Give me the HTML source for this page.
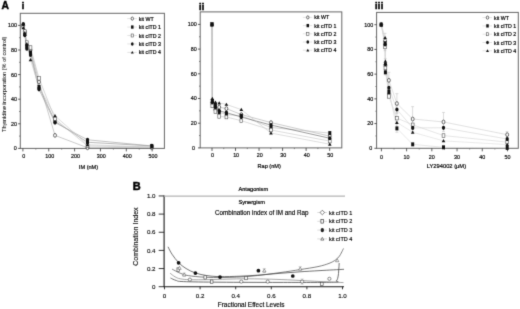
<!DOCTYPE html>
<html><head><meta charset="utf-8"><style>
html,body{margin:0;padding:0;background:#fff;width:520px;height:309px;overflow:hidden;}
svg{display:block;font-family:"Liberation Sans", sans-serif;}
</style></head><body>
<svg width="520" height="309" viewBox="0 0 520 309" font-family="'Liberation Sans', sans-serif">
<rect width="520" height="309" fill="#fff"/>
<defs><filter id="bl" x="0" y="0" width="520" height="309" filterUnits="userSpaceOnUse" color-interpolation-filters="sRGB"><feConvolveMatrix order="3" kernelMatrix="0.01440 0.09120 0.01440 0.09120 0.57760 0.09120 0.01440 0.09120 0.01440" divisor="1" edgeMode="duplicate" preserveAlpha="false"/></filter></defs>
<g filter="url(#bl)">
<text x="1.60" y="9.00" font-size="10.3" text-anchor="start" font-weight="bold" fill="#000" stroke="#000" stroke-width="0.4">A</text>
<rect x="20.30" y="13.30" width="144.10" height="135.10" fill="none" stroke="#666666" stroke-width="1.0"/>
<line x1="18.10" y1="148.40" x2="20.30" y2="148.40" stroke="#333" stroke-width="0.8"/>
<text x="16.70" y="150.30" font-size="5.4" text-anchor="end" font-weight="normal" fill="#000" stroke="#000" stroke-width="0.16">0</text>
<line x1="18.10" y1="123.80" x2="20.30" y2="123.80" stroke="#333" stroke-width="0.8"/>
<text x="16.90" y="125.70" font-size="5.4" text-anchor="end" font-weight="normal" fill="#000" stroke="#000" stroke-width="0.16">20</text>
<line x1="18.10" y1="99.20" x2="20.30" y2="99.20" stroke="#333" stroke-width="0.8"/>
<text x="16.90" y="101.10" font-size="5.4" text-anchor="end" font-weight="normal" fill="#000" stroke="#000" stroke-width="0.16">40</text>
<line x1="18.10" y1="74.60" x2="20.30" y2="74.60" stroke="#333" stroke-width="0.8"/>
<text x="16.90" y="76.50" font-size="5.4" text-anchor="end" font-weight="normal" fill="#000" stroke="#000" stroke-width="0.16">60</text>
<line x1="18.10" y1="50.00" x2="20.30" y2="50.00" stroke="#333" stroke-width="0.8"/>
<text x="16.90" y="51.90" font-size="5.4" text-anchor="end" font-weight="normal" fill="#000" stroke="#000" stroke-width="0.16">80</text>
<line x1="18.10" y1="25.40" x2="20.30" y2="25.40" stroke="#333" stroke-width="0.8"/>
<text x="16.90" y="27.30" font-size="5.4" text-anchor="end" font-weight="normal" fill="#000" stroke="#000" stroke-width="0.16">100</text>
<line x1="19.10" y1="136.10" x2="20.30" y2="136.10" stroke="#666666" stroke-width="0.8"/>
<line x1="19.10" y1="111.50" x2="20.30" y2="111.50" stroke="#666666" stroke-width="0.8"/>
<line x1="19.10" y1="86.90" x2="20.30" y2="86.90" stroke="#666666" stroke-width="0.8"/>
<line x1="19.10" y1="62.30" x2="20.30" y2="62.30" stroke="#666666" stroke-width="0.8"/>
<line x1="19.10" y1="37.70" x2="20.30" y2="37.70" stroke="#666666" stroke-width="0.8"/>
<line x1="22.90" y1="148.40" x2="22.90" y2="151.40" stroke="#333" stroke-width="0.8"/>
<text x="23.80" y="158.00" font-size="5.4" text-anchor="middle" font-weight="normal" fill="#000" stroke="#000" stroke-width="0.16">0</text>
<line x1="48.75" y1="148.40" x2="48.75" y2="151.40" stroke="#333" stroke-width="0.8"/>
<text x="49.65" y="158.00" font-size="5.4" text-anchor="middle" font-weight="normal" fill="#000" stroke="#000" stroke-width="0.16">100</text>
<line x1="74.60" y1="148.40" x2="74.60" y2="151.40" stroke="#333" stroke-width="0.8"/>
<text x="75.50" y="158.00" font-size="5.4" text-anchor="middle" font-weight="normal" fill="#000" stroke="#000" stroke-width="0.16">200</text>
<line x1="100.45" y1="148.40" x2="100.45" y2="151.40" stroke="#333" stroke-width="0.8"/>
<text x="101.35" y="158.00" font-size="5.4" text-anchor="middle" font-weight="normal" fill="#000" stroke="#000" stroke-width="0.16">300</text>
<line x1="126.30" y1="148.40" x2="126.30" y2="151.40" stroke="#333" stroke-width="0.8"/>
<text x="127.20" y="158.00" font-size="5.4" text-anchor="middle" font-weight="normal" fill="#000" stroke="#000" stroke-width="0.16">400</text>
<line x1="152.15" y1="148.40" x2="152.15" y2="151.40" stroke="#333" stroke-width="0.8"/>
<text x="153.05" y="158.00" font-size="5.4" text-anchor="middle" font-weight="normal" fill="#000" stroke="#000" stroke-width="0.16">500</text>
<line x1="35.83" y1="148.40" x2="35.83" y2="149.60" stroke="#666666" stroke-width="0.8"/>
<line x1="61.67" y1="148.40" x2="61.67" y2="149.60" stroke="#666666" stroke-width="0.8"/>
<line x1="87.53" y1="148.40" x2="87.53" y2="149.60" stroke="#666666" stroke-width="0.8"/>
<line x1="113.38" y1="148.40" x2="113.38" y2="149.60" stroke="#666666" stroke-width="0.8"/>
<line x1="139.22" y1="148.40" x2="139.22" y2="149.60" stroke="#666666" stroke-width="0.8"/>
<text x="88.50" y="168.90" font-size="5.6" text-anchor="middle" font-weight="normal" fill="#000" stroke="#000" stroke-width="0.18">IM (nM)</text>
<text x="21.70" y="8.90" font-size="9.0" text-anchor="start" font-weight="bold" fill="#000" stroke="#000" stroke-width="0.5" letter-spacing="0.35">i</text>
<polyline points="23.30,25.40 24.80,31.55 26.80,45.08 30.50,50.00 39.00,81.98 55.00,135.36 87.50,147.78 151.80,147.17" fill="none" stroke="#a8a8a8" stroke-width="0.6"/>
<polyline points="23.30,25.40 24.80,34.01 26.80,46.31 30.50,52.46 39.00,86.90 55.00,121.34 87.50,142.25 151.80,145.94" fill="none" stroke="#8c8c8c" stroke-width="0.6"/>
<polyline points="23.30,26.63 24.80,31.55 26.80,42.62 30.50,47.54 39.00,78.29 55.00,118.88 87.50,145.94 151.80,147.17" fill="none" stroke="#bcbcbc" stroke-width="0.6"/>
<polyline points="23.30,24.17 24.80,35.24 26.80,48.77 30.50,54.92 39.00,89.36 55.00,122.57 87.50,139.79 151.80,145.94" fill="none" stroke="#9c9c9c" stroke-width="0.6"/>
<polyline points="23.30,27.86 24.80,32.78 26.80,43.85 30.50,59.84 39.00,86.90 55.00,115.81 87.50,144.71 151.80,147.17" fill="none" stroke="#c4c4c4" stroke-width="0.6"/>
<ellipse cx="23.30" cy="25.40" rx="1.44" ry="1.92" fill="#fff" stroke="#111" stroke-width="0.6"/>
<ellipse cx="24.80" cy="31.55" rx="1.44" ry="1.92" fill="#fff" stroke="#111" stroke-width="0.6"/>
<ellipse cx="26.80" cy="45.08" rx="1.44" ry="1.92" fill="#fff" stroke="#111" stroke-width="0.6"/>
<ellipse cx="30.50" cy="50.00" rx="1.44" ry="1.92" fill="#fff" stroke="#111" stroke-width="0.6"/>
<ellipse cx="39.00" cy="81.98" rx="1.44" ry="1.92" fill="#fff" stroke="#111" stroke-width="0.6"/>
<ellipse cx="55.00" cy="135.36" rx="1.44" ry="1.92" fill="#fff" stroke="#111" stroke-width="0.6"/>
<ellipse cx="87.50" cy="147.78" rx="1.44" ry="1.92" fill="#fff" stroke="#111" stroke-width="0.6"/>
<ellipse cx="151.80" cy="147.17" rx="1.44" ry="1.92" fill="#fff" stroke="#111" stroke-width="0.6"/>
<rect x="21.80" y="23.42" width="3.00" height="3.96" fill="#111"/>
<rect x="23.30" y="32.03" width="3.00" height="3.96" fill="#111"/>
<rect x="25.30" y="44.33" width="3.00" height="3.96" fill="#111"/>
<rect x="29.00" y="50.48" width="3.00" height="3.96" fill="#111"/>
<rect x="37.50" y="84.92" width="3.00" height="3.96" fill="#111"/>
<rect x="53.50" y="119.36" width="3.00" height="3.96" fill="#111"/>
<rect x="86.00" y="140.27" width="3.00" height="3.96" fill="#111"/>
<rect x="150.30" y="143.96" width="3.00" height="3.96" fill="#111"/>
<rect x="21.92" y="24.83" width="2.76" height="3.60" fill="#fff" stroke="#555" stroke-width="0.6"/>
<rect x="23.42" y="29.75" width="2.76" height="3.60" fill="#fff" stroke="#555" stroke-width="0.6"/>
<rect x="25.42" y="40.82" width="2.76" height="3.60" fill="#fff" stroke="#555" stroke-width="0.6"/>
<rect x="29.12" y="45.74" width="2.76" height="3.60" fill="#fff" stroke="#555" stroke-width="0.6"/>
<rect x="37.62" y="76.49" width="2.76" height="3.60" fill="#fff" stroke="#555" stroke-width="0.6"/>
<rect x="53.62" y="117.08" width="2.76" height="3.60" fill="#fff" stroke="#555" stroke-width="0.6"/>
<rect x="86.12" y="144.14" width="2.76" height="3.60" fill="#fff" stroke="#555" stroke-width="0.6"/>
<rect x="150.42" y="145.37" width="2.76" height="3.60" fill="#fff" stroke="#555" stroke-width="0.6"/>
<ellipse cx="23.30" cy="24.17" rx="1.62" ry="2.10" fill="#111"/>
<ellipse cx="24.80" cy="35.24" rx="1.62" ry="2.10" fill="#111"/>
<ellipse cx="26.80" cy="48.77" rx="1.62" ry="2.10" fill="#111"/>
<ellipse cx="30.50" cy="54.92" rx="1.62" ry="2.10" fill="#111"/>
<ellipse cx="39.00" cy="89.36" rx="1.62" ry="2.10" fill="#111"/>
<ellipse cx="55.00" cy="122.57" rx="1.62" ry="2.10" fill="#111"/>
<ellipse cx="87.50" cy="139.79" rx="1.62" ry="2.10" fill="#111"/>
<ellipse cx="151.80" cy="145.94" rx="1.62" ry="2.10" fill="#111"/>
<path d="M23.30,26.06 L25.10,29.30 L21.50,29.30Z" fill="#111"/>
<path d="M24.80,30.98 L26.60,34.22 L23.00,34.22Z" fill="#111"/>
<path d="M26.80,42.05 L28.60,45.29 L25.00,45.29Z" fill="#111"/>
<path d="M30.50,58.04 L32.30,61.28 L28.70,61.28Z" fill="#111"/>
<path d="M39.00,85.10 L40.80,88.34 L37.20,88.34Z" fill="#111"/>
<path d="M55.00,114.01 L56.80,117.25 L53.20,117.25Z" fill="#111"/>
<path d="M87.50,142.91 L89.30,146.15 L85.70,146.15Z" fill="#111"/>
<path d="M151.80,145.37 L153.60,148.61 L150.00,148.61Z" fill="#111"/>
<line x1="127.30" y1="18.60" x2="136.80" y2="18.60" stroke="#d0d0d0" stroke-width="0.6"/>
<ellipse cx="132.30" cy="18.60" rx="1.20" ry="1.60" fill="#fff" stroke="#111" stroke-width="0.6"/>
<text x="138.80" y="20.60" font-size="5.25" text-anchor="start" font-weight="normal" fill="#000" stroke="#000" stroke-width="0.2">kit WT</text>
<line x1="127.30" y1="27.05" x2="136.80" y2="27.05" stroke="#d0d0d0" stroke-width="0.6"/>
<rect x="131.05" y="25.40" width="2.50" height="3.30" fill="#111"/>
<text x="138.80" y="29.05" font-size="5.25" text-anchor="start" font-weight="normal" fill="#000" stroke="#000" stroke-width="0.2">kit cITD 1</text>
<line x1="127.30" y1="35.50" x2="136.80" y2="35.50" stroke="#d0d0d0" stroke-width="0.6"/>
<rect x="131.15" y="34.00" width="2.30" height="3.00" fill="#fff" stroke="#555" stroke-width="0.6"/>
<text x="138.80" y="37.50" font-size="5.25" text-anchor="start" font-weight="normal" fill="#000" stroke="#000" stroke-width="0.2">kit cITD 2</text>
<line x1="127.30" y1="43.95" x2="136.80" y2="43.95" stroke="#d0d0d0" stroke-width="0.6"/>
<ellipse cx="132.30" cy="43.95" rx="1.35" ry="1.75" fill="#111"/>
<text x="138.80" y="45.95" font-size="5.25" text-anchor="start" font-weight="normal" fill="#000" stroke="#000" stroke-width="0.2">kit cITD 3</text>
<line x1="127.30" y1="52.40" x2="136.80" y2="52.40" stroke="#d0d0d0" stroke-width="0.6"/>
<path d="M132.30,50.90 L133.80,53.60 L130.80,53.60Z" fill="#111"/>
<text x="138.80" y="54.40" font-size="5.25" text-anchor="start" font-weight="normal" fill="#000" stroke="#000" stroke-width="0.2">kit cITD 4</text>
<text x="5.60" y="84.40" font-size="5.65" text-anchor="middle" font-weight="normal" fill="#111" stroke="#111" stroke-width="0.05" transform="rotate(-90 5.6 84.4)">Thymidine incorporation (% of control)</text>
<rect x="200.20" y="11.90" width="141.60" height="136.00" fill="none" stroke="#666666" stroke-width="1.0"/>
<line x1="198.00" y1="147.90" x2="200.20" y2="147.90" stroke="#333" stroke-width="0.8"/>
<text x="195.00" y="149.80" font-size="5.4" text-anchor="end" font-weight="normal" fill="#000" stroke="#000" stroke-width="0.16">0</text>
<line x1="198.00" y1="123.20" x2="200.20" y2="123.20" stroke="#333" stroke-width="0.8"/>
<text x="196.80" y="125.10" font-size="5.4" text-anchor="end" font-weight="normal" fill="#000" stroke="#000" stroke-width="0.16">20</text>
<line x1="198.00" y1="98.50" x2="200.20" y2="98.50" stroke="#333" stroke-width="0.8"/>
<text x="196.80" y="100.40" font-size="5.4" text-anchor="end" font-weight="normal" fill="#000" stroke="#000" stroke-width="0.16">40</text>
<line x1="198.00" y1="73.80" x2="200.20" y2="73.80" stroke="#333" stroke-width="0.8"/>
<text x="196.80" y="75.70" font-size="5.4" text-anchor="end" font-weight="normal" fill="#000" stroke="#000" stroke-width="0.16">60</text>
<line x1="198.00" y1="49.10" x2="200.20" y2="49.10" stroke="#333" stroke-width="0.8"/>
<text x="196.80" y="51.00" font-size="5.4" text-anchor="end" font-weight="normal" fill="#000" stroke="#000" stroke-width="0.16">80</text>
<line x1="198.00" y1="24.40" x2="200.20" y2="24.40" stroke="#333" stroke-width="0.8"/>
<text x="196.80" y="26.30" font-size="5.4" text-anchor="end" font-weight="normal" fill="#000" stroke="#000" stroke-width="0.16">100</text>
<line x1="199.00" y1="135.55" x2="200.20" y2="135.55" stroke="#666666" stroke-width="0.8"/>
<line x1="199.00" y1="110.85" x2="200.20" y2="110.85" stroke="#666666" stroke-width="0.8"/>
<line x1="199.00" y1="86.15" x2="200.20" y2="86.15" stroke="#666666" stroke-width="0.8"/>
<line x1="199.00" y1="61.45" x2="200.20" y2="61.45" stroke="#666666" stroke-width="0.8"/>
<line x1="199.00" y1="36.75" x2="200.20" y2="36.75" stroke="#666666" stroke-width="0.8"/>
<line x1="212.00" y1="147.90" x2="212.00" y2="150.90" stroke="#333" stroke-width="0.8"/>
<text x="212.60" y="157.00" font-size="5.4" text-anchor="middle" font-weight="normal" fill="#000" stroke="#000" stroke-width="0.16">0</text>
<line x1="235.53" y1="147.90" x2="235.53" y2="150.90" stroke="#333" stroke-width="0.8"/>
<text x="236.13" y="157.00" font-size="5.4" text-anchor="middle" font-weight="normal" fill="#000" stroke="#000" stroke-width="0.16">10</text>
<line x1="259.06" y1="147.90" x2="259.06" y2="150.90" stroke="#333" stroke-width="0.8"/>
<text x="259.66" y="157.00" font-size="5.4" text-anchor="middle" font-weight="normal" fill="#000" stroke="#000" stroke-width="0.16">20</text>
<line x1="282.59" y1="147.90" x2="282.59" y2="150.90" stroke="#333" stroke-width="0.8"/>
<text x="283.19" y="157.00" font-size="5.4" text-anchor="middle" font-weight="normal" fill="#000" stroke="#000" stroke-width="0.16">30</text>
<line x1="306.12" y1="147.90" x2="306.12" y2="150.90" stroke="#333" stroke-width="0.8"/>
<text x="306.72" y="157.00" font-size="5.4" text-anchor="middle" font-weight="normal" fill="#000" stroke="#000" stroke-width="0.16">40</text>
<line x1="329.65" y1="147.90" x2="329.65" y2="150.90" stroke="#333" stroke-width="0.8"/>
<text x="330.25" y="157.00" font-size="5.4" text-anchor="middle" font-weight="normal" fill="#000" stroke="#000" stroke-width="0.16">50</text>
<line x1="223.76" y1="147.90" x2="223.76" y2="149.10" stroke="#666666" stroke-width="0.8"/>
<line x1="247.30" y1="147.90" x2="247.30" y2="149.10" stroke="#666666" stroke-width="0.8"/>
<line x1="270.82" y1="147.90" x2="270.82" y2="149.10" stroke="#666666" stroke-width="0.8"/>
<line x1="294.36" y1="147.90" x2="294.36" y2="149.10" stroke="#666666" stroke-width="0.8"/>
<line x1="317.88" y1="147.90" x2="317.88" y2="149.10" stroke="#666666" stroke-width="0.8"/>
<text x="269.20" y="168.40" font-size="5.6" text-anchor="middle" font-weight="normal" fill="#000" stroke="#000" stroke-width="0.18">Rap (nM)</text>
<text x="198.90" y="9.60" font-size="9.0" text-anchor="start" font-weight="bold" fill="#000" stroke="#000" stroke-width="0.5" letter-spacing="0.35">ii</text>
<polyline points="212.00,24.40 212.30,103.44 215.40,109.62 219.20,107.15 226.40,108.63 241.30,114.56 271.00,122.58 329.80,136.17" fill="none" stroke="#aaaaaa" stroke-width="0.6"/>
<polyline points="212.00,24.40 212.30,100.97 215.40,104.68 219.20,112.09 226.40,114.56 241.30,115.79 271.00,127.52 329.80,133.08" fill="none" stroke="#bbbbbb" stroke-width="0.6"/>
<polyline points="212.00,24.40 212.30,105.91 215.40,111.47 219.20,116.41 226.40,117.03 241.30,120.73 271.00,129.99 329.80,141.11" fill="none" stroke="#c4c4c4" stroke-width="0.6"/>
<polyline points="212.30,102.21 215.40,107.15 219.20,110.85 226.40,112.70 241.30,117.03 271.00,125.05 329.80,138.27" fill="none" stroke="#5a5a5a" stroke-width="0.6"/>
<line x1="212.00" y1="24.40" x2="212.30" y2="102.21" stroke="#b0b0b0" stroke-width="0.6"/>
<polyline points="212.00,24.40 212.30,98.50 215.40,102.21 219.20,102.95 226.40,104.43 241.30,109.62 271.00,133.08 329.80,144.19" fill="none" stroke="#c8c8c8" stroke-width="0.6"/>
<ellipse cx="212.00" cy="24.40" rx="1.44" ry="1.92" fill="#fff" stroke="#111" stroke-width="0.6"/>
<ellipse cx="212.30" cy="103.44" rx="1.44" ry="1.92" fill="#fff" stroke="#111" stroke-width="0.6"/>
<ellipse cx="215.40" cy="109.62" rx="1.44" ry="1.92" fill="#fff" stroke="#111" stroke-width="0.6"/>
<ellipse cx="219.20" cy="107.15" rx="1.44" ry="1.92" fill="#fff" stroke="#111" stroke-width="0.6"/>
<ellipse cx="226.40" cy="108.63" rx="1.44" ry="1.92" fill="#fff" stroke="#111" stroke-width="0.6"/>
<ellipse cx="241.30" cy="114.56" rx="1.44" ry="1.92" fill="#fff" stroke="#111" stroke-width="0.6"/>
<ellipse cx="271.00" cy="122.58" rx="1.44" ry="1.92" fill="#fff" stroke="#111" stroke-width="0.6"/>
<ellipse cx="329.80" cy="136.17" rx="1.44" ry="1.92" fill="#fff" stroke="#111" stroke-width="0.6"/>
<rect x="210.50" y="22.42" width="3.00" height="3.96" fill="#111"/>
<rect x="210.80" y="98.99" width="3.00" height="3.96" fill="#111"/>
<rect x="213.90" y="102.70" width="3.00" height="3.96" fill="#111"/>
<rect x="217.70" y="110.11" width="3.00" height="3.96" fill="#111"/>
<rect x="224.90" y="112.58" width="3.00" height="3.96" fill="#111"/>
<rect x="239.80" y="113.81" width="3.00" height="3.96" fill="#111"/>
<rect x="269.50" y="125.54" width="3.00" height="3.96" fill="#111"/>
<rect x="328.30" y="131.10" width="3.00" height="3.96" fill="#111"/>
<rect x="210.62" y="22.60" width="2.76" height="3.60" fill="#fff" stroke="#555" stroke-width="0.6"/>
<rect x="210.92" y="104.11" width="2.76" height="3.60" fill="#fff" stroke="#555" stroke-width="0.6"/>
<rect x="214.02" y="109.67" width="2.76" height="3.60" fill="#fff" stroke="#555" stroke-width="0.6"/>
<rect x="217.82" y="114.61" width="2.76" height="3.60" fill="#fff" stroke="#555" stroke-width="0.6"/>
<rect x="225.02" y="115.23" width="2.76" height="3.60" fill="#fff" stroke="#555" stroke-width="0.6"/>
<rect x="239.92" y="118.93" width="2.76" height="3.60" fill="#fff" stroke="#555" stroke-width="0.6"/>
<rect x="269.62" y="128.19" width="2.76" height="3.60" fill="#fff" stroke="#555" stroke-width="0.6"/>
<rect x="328.42" y="139.31" width="2.76" height="3.60" fill="#fff" stroke="#555" stroke-width="0.6"/>
<ellipse cx="212.00" cy="24.40" rx="1.62" ry="2.10" fill="#111"/>
<ellipse cx="212.30" cy="102.21" rx="1.62" ry="2.10" fill="#111"/>
<ellipse cx="215.40" cy="107.15" rx="1.62" ry="2.10" fill="#111"/>
<ellipse cx="219.20" cy="110.85" rx="1.62" ry="2.10" fill="#111"/>
<ellipse cx="226.40" cy="112.70" rx="1.62" ry="2.10" fill="#111"/>
<ellipse cx="241.30" cy="117.03" rx="1.62" ry="2.10" fill="#111"/>
<ellipse cx="271.00" cy="125.05" rx="1.62" ry="2.10" fill="#111"/>
<ellipse cx="329.80" cy="138.27" rx="1.62" ry="2.10" fill="#111"/>
<path d="M212.00,22.60 L213.80,25.84 L210.20,25.84Z" fill="#111"/>
<path d="M212.30,96.70 L214.10,99.94 L210.50,99.94Z" fill="#111"/>
<path d="M215.40,100.41 L217.20,103.65 L213.60,103.65Z" fill="#111"/>
<path d="M219.20,101.15 L221.00,104.39 L217.40,104.39Z" fill="#111"/>
<path d="M226.40,102.63 L228.20,105.87 L224.60,105.87Z" fill="#111"/>
<path d="M241.30,107.82 L243.10,111.06 L239.50,111.06Z" fill="#111"/>
<path d="M271.00,131.28 L272.80,134.52 L269.20,134.52Z" fill="#111"/>
<path d="M329.80,142.39 L331.60,145.63 L328.00,145.63Z" fill="#111"/>
<line x1="302.80" y1="17.40" x2="312.30" y2="17.40" stroke="#d0d0d0" stroke-width="0.6"/>
<ellipse cx="307.80" cy="17.40" rx="1.20" ry="1.60" fill="#fff" stroke="#111" stroke-width="0.6"/>
<text x="314.30" y="19.40" font-size="5.25" text-anchor="start" font-weight="normal" fill="#000" stroke="#000" stroke-width="0.2">kit WT</text>
<line x1="302.80" y1="25.60" x2="312.30" y2="25.60" stroke="#d0d0d0" stroke-width="0.6"/>
<rect x="306.55" y="23.95" width="2.50" height="3.30" fill="#111"/>
<text x="314.30" y="27.60" font-size="5.25" text-anchor="start" font-weight="normal" fill="#000" stroke="#000" stroke-width="0.2">kit cITD 1</text>
<line x1="302.80" y1="33.80" x2="312.30" y2="33.80" stroke="#d0d0d0" stroke-width="0.6"/>
<rect x="306.65" y="32.30" width="2.30" height="3.00" fill="#fff" stroke="#555" stroke-width="0.6"/>
<text x="314.30" y="35.80" font-size="5.25" text-anchor="start" font-weight="normal" fill="#000" stroke="#000" stroke-width="0.2">kit cITD 2</text>
<line x1="302.80" y1="42.00" x2="312.30" y2="42.00" stroke="#d0d0d0" stroke-width="0.6"/>
<ellipse cx="307.80" cy="42.00" rx="1.35" ry="1.75" fill="#111"/>
<text x="314.30" y="44.00" font-size="5.25" text-anchor="start" font-weight="normal" fill="#000" stroke="#000" stroke-width="0.2">kit cITD 3</text>
<line x1="302.80" y1="50.20" x2="312.30" y2="50.20" stroke="#d0d0d0" stroke-width="0.6"/>
<path d="M307.80,48.70 L309.30,51.40 L306.30,51.40Z" fill="#111"/>
<text x="314.30" y="52.20" font-size="5.25" text-anchor="start" font-weight="normal" fill="#000" stroke="#000" stroke-width="0.2">kit cITD 4</text>
<rect x="376.60" y="12.40" width="141.70" height="135.90" fill="none" stroke="#666666" stroke-width="1.0"/>
<line x1="374.40" y1="148.30" x2="376.60" y2="148.30" stroke="#333" stroke-width="0.8"/>
<text x="372.20" y="150.20" font-size="5.4" text-anchor="end" font-weight="normal" fill="#000" stroke="#000" stroke-width="0.16">0</text>
<line x1="374.40" y1="123.58" x2="376.60" y2="123.58" stroke="#333" stroke-width="0.8"/>
<text x="373.20" y="125.48" font-size="5.4" text-anchor="end" font-weight="normal" fill="#000" stroke="#000" stroke-width="0.16">20</text>
<line x1="374.40" y1="98.86" x2="376.60" y2="98.86" stroke="#333" stroke-width="0.8"/>
<text x="373.20" y="100.76" font-size="5.4" text-anchor="end" font-weight="normal" fill="#000" stroke="#000" stroke-width="0.16">40</text>
<line x1="374.40" y1="74.14" x2="376.60" y2="74.14" stroke="#333" stroke-width="0.8"/>
<text x="373.20" y="76.04" font-size="5.4" text-anchor="end" font-weight="normal" fill="#000" stroke="#000" stroke-width="0.16">60</text>
<line x1="374.40" y1="49.42" x2="376.60" y2="49.42" stroke="#333" stroke-width="0.8"/>
<text x="373.20" y="51.32" font-size="5.4" text-anchor="end" font-weight="normal" fill="#000" stroke="#000" stroke-width="0.16">80</text>
<line x1="374.40" y1="24.70" x2="376.60" y2="24.70" stroke="#333" stroke-width="0.8"/>
<text x="373.20" y="26.60" font-size="5.4" text-anchor="end" font-weight="normal" fill="#000" stroke="#000" stroke-width="0.16">100</text>
<line x1="375.40" y1="135.94" x2="376.60" y2="135.94" stroke="#666666" stroke-width="0.8"/>
<line x1="375.40" y1="111.22" x2="376.60" y2="111.22" stroke="#666666" stroke-width="0.8"/>
<line x1="375.40" y1="86.50" x2="376.60" y2="86.50" stroke="#666666" stroke-width="0.8"/>
<line x1="375.40" y1="61.78" x2="376.60" y2="61.78" stroke="#666666" stroke-width="0.8"/>
<line x1="375.40" y1="37.06" x2="376.60" y2="37.06" stroke="#666666" stroke-width="0.8"/>
<line x1="381.40" y1="148.30" x2="381.40" y2="151.30" stroke="#333" stroke-width="0.8"/>
<text x="381.40" y="158.70" font-size="5.4" text-anchor="middle" font-weight="normal" fill="#000" stroke="#000" stroke-width="0.16">0</text>
<line x1="406.62" y1="148.30" x2="406.62" y2="151.30" stroke="#333" stroke-width="0.8"/>
<text x="406.62" y="158.70" font-size="5.4" text-anchor="middle" font-weight="normal" fill="#000" stroke="#000" stroke-width="0.16">10</text>
<line x1="431.84" y1="148.30" x2="431.84" y2="151.30" stroke="#333" stroke-width="0.8"/>
<text x="431.84" y="158.70" font-size="5.4" text-anchor="middle" font-weight="normal" fill="#000" stroke="#000" stroke-width="0.16">20</text>
<line x1="457.06" y1="148.30" x2="457.06" y2="151.30" stroke="#333" stroke-width="0.8"/>
<text x="457.06" y="158.70" font-size="5.4" text-anchor="middle" font-weight="normal" fill="#000" stroke="#000" stroke-width="0.16">30</text>
<line x1="482.28" y1="148.30" x2="482.28" y2="151.30" stroke="#333" stroke-width="0.8"/>
<text x="482.28" y="158.70" font-size="5.4" text-anchor="middle" font-weight="normal" fill="#000" stroke="#000" stroke-width="0.16">40</text>
<line x1="507.50" y1="148.30" x2="507.50" y2="151.30" stroke="#333" stroke-width="0.8"/>
<text x="507.50" y="158.70" font-size="5.4" text-anchor="middle" font-weight="normal" fill="#000" stroke="#000" stroke-width="0.16">50</text>
<line x1="394.01" y1="148.30" x2="394.01" y2="149.50" stroke="#666666" stroke-width="0.8"/>
<line x1="419.23" y1="148.30" x2="419.23" y2="149.50" stroke="#666666" stroke-width="0.8"/>
<line x1="444.45" y1="148.30" x2="444.45" y2="149.50" stroke="#666666" stroke-width="0.8"/>
<line x1="469.67" y1="148.30" x2="469.67" y2="149.50" stroke="#666666" stroke-width="0.8"/>
<line x1="494.89" y1="148.30" x2="494.89" y2="149.50" stroke="#666666" stroke-width="0.8"/>
<text x="446.40" y="167.80" font-size="5.75" text-anchor="middle" font-weight="normal" fill="#000" stroke="#000" stroke-width="0.18">LY294002 (μM)</text>
<text x="375.00" y="8.70" font-size="9.0" text-anchor="start" font-weight="bold" fill="#000" stroke="#000" stroke-width="0.5" letter-spacing="0.35">iii</text>
<polyline points="381.30,24.70 385.10,40.77 385.40,65.49 388.90,80.32 396.90,103.56 412.70,119.01 443.50,121.97 507.20,134.70" fill="none" stroke="#cccccc" stroke-width="0.6"/>
<polyline points="381.30,24.70 385.10,43.24 385.40,72.29 388.90,91.44 396.90,128.40 412.70,144.34 443.50,147.31 507.20,147.93" fill="none" stroke="#d9d9d9" stroke-width="0.6"/>
<polyline points="381.30,24.70 385.10,46.95 385.40,67.96 388.90,96.39 396.90,118.14 412.70,124.82 443.50,135.57 507.20,142.12" fill="none" stroke="#d5d5d5" stroke-width="0.6"/>
<polyline points="381.30,24.70 385.10,44.48 385.40,64.25 388.90,87.74 396.90,109.49 412.70,127.91 443.50,127.78 507.20,139.03" fill="none" stroke="#d1d1d1" stroke-width="0.6"/>
<polyline points="381.30,24.70 385.10,37.68 385.40,61.29 388.90,92.68 396.90,122.47 412.70,132.23 443.50,140.88 507.20,144.59" fill="none" stroke="#dcdcdc" stroke-width="0.6"/>
<line x1="385.00" y1="33.35" x2="385.00" y2="50.66" stroke="#bbb" stroke-width="0.5"/>
<line x1="383.50" y1="33.35" x2="386.50" y2="33.35" stroke="#bbb" stroke-width="0.5"/>
<line x1="383.50" y1="50.66" x2="386.50" y2="50.66" stroke="#bbb" stroke-width="0.5"/>
<line x1="385.30" y1="58.69" x2="385.30" y2="74.76" stroke="#bbb" stroke-width="0.5"/>
<line x1="383.80" y1="58.69" x2="386.80" y2="58.69" stroke="#bbb" stroke-width="0.5"/>
<line x1="383.80" y1="74.76" x2="386.80" y2="74.76" stroke="#bbb" stroke-width="0.5"/>
<line x1="388.90" y1="72.29" x2="388.90" y2="88.35" stroke="#bbb" stroke-width="0.5"/>
<line x1="387.40" y1="72.29" x2="390.40" y2="72.29" stroke="#bbb" stroke-width="0.5"/>
<line x1="387.40" y1="88.35" x2="390.40" y2="88.35" stroke="#bbb" stroke-width="0.5"/>
<line x1="396.90" y1="93.67" x2="396.90" y2="113.44" stroke="#bbb" stroke-width="0.5"/>
<line x1="395.40" y1="93.67" x2="398.40" y2="93.67" stroke="#bbb" stroke-width="0.5"/>
<line x1="395.40" y1="113.44" x2="398.40" y2="113.44" stroke="#bbb" stroke-width="0.5"/>
<line x1="396.90" y1="112.58" x2="396.90" y2="132.36" stroke="#bbb" stroke-width="0.5"/>
<line x1="395.40" y1="112.58" x2="398.40" y2="112.58" stroke="#bbb" stroke-width="0.5"/>
<line x1="395.40" y1="132.36" x2="398.40" y2="132.36" stroke="#bbb" stroke-width="0.5"/>
<line x1="412.60" y1="106.65" x2="412.60" y2="131.37" stroke="#bbb" stroke-width="0.5"/>
<line x1="411.10" y1="106.65" x2="414.10" y2="106.65" stroke="#bbb" stroke-width="0.5"/>
<line x1="411.10" y1="131.37" x2="414.10" y2="131.37" stroke="#bbb" stroke-width="0.5"/>
<line x1="443.50" y1="112.46" x2="443.50" y2="131.49" stroke="#bbb" stroke-width="0.5"/>
<line x1="442.00" y1="112.46" x2="445.00" y2="112.46" stroke="#bbb" stroke-width="0.5"/>
<line x1="442.00" y1="131.49" x2="445.00" y2="131.49" stroke="#bbb" stroke-width="0.5"/>
<line x1="507.00" y1="131.61" x2="507.00" y2="137.79" stroke="#bbb" stroke-width="0.5"/>
<line x1="505.50" y1="131.61" x2="508.50" y2="131.61" stroke="#bbb" stroke-width="0.5"/>
<line x1="505.50" y1="137.79" x2="508.50" y2="137.79" stroke="#bbb" stroke-width="0.5"/>
<ellipse cx="381.30" cy="24.70" rx="1.44" ry="1.92" fill="#fff" stroke="#111" stroke-width="0.6"/>
<ellipse cx="385.10" cy="40.77" rx="1.44" ry="1.92" fill="#fff" stroke="#111" stroke-width="0.6"/>
<ellipse cx="385.40" cy="65.49" rx="1.44" ry="1.92" fill="#fff" stroke="#111" stroke-width="0.6"/>
<ellipse cx="388.90" cy="80.32" rx="1.44" ry="1.92" fill="#fff" stroke="#111" stroke-width="0.6"/>
<ellipse cx="396.90" cy="103.56" rx="1.44" ry="1.92" fill="#fff" stroke="#111" stroke-width="0.6"/>
<ellipse cx="412.70" cy="119.01" rx="1.44" ry="1.92" fill="#fff" stroke="#111" stroke-width="0.6"/>
<ellipse cx="443.50" cy="121.97" rx="1.44" ry="1.92" fill="#fff" stroke="#111" stroke-width="0.6"/>
<ellipse cx="507.20" cy="134.70" rx="1.44" ry="1.92" fill="#fff" stroke="#111" stroke-width="0.6"/>
<rect x="379.80" y="22.72" width="3.00" height="3.96" fill="#111"/>
<rect x="383.60" y="41.26" width="3.00" height="3.96" fill="#111"/>
<rect x="383.90" y="70.31" width="3.00" height="3.96" fill="#111"/>
<rect x="387.40" y="89.46" width="3.00" height="3.96" fill="#111"/>
<rect x="395.40" y="126.42" width="3.00" height="3.96" fill="#111"/>
<rect x="411.20" y="142.36" width="3.00" height="3.96" fill="#111"/>
<rect x="442.00" y="145.33" width="3.00" height="3.96" fill="#111"/>
<rect x="505.70" y="145.95" width="3.00" height="3.96" fill="#111"/>
<rect x="379.92" y="22.90" width="2.76" height="3.60" fill="#fff" stroke="#555" stroke-width="0.6"/>
<rect x="383.72" y="45.15" width="2.76" height="3.60" fill="#fff" stroke="#555" stroke-width="0.6"/>
<rect x="384.02" y="66.16" width="2.76" height="3.60" fill="#fff" stroke="#555" stroke-width="0.6"/>
<rect x="387.52" y="94.59" width="2.76" height="3.60" fill="#fff" stroke="#555" stroke-width="0.6"/>
<rect x="395.52" y="116.34" width="2.76" height="3.60" fill="#fff" stroke="#555" stroke-width="0.6"/>
<rect x="411.32" y="123.02" width="2.76" height="3.60" fill="#fff" stroke="#555" stroke-width="0.6"/>
<rect x="442.12" y="133.77" width="2.76" height="3.60" fill="#fff" stroke="#555" stroke-width="0.6"/>
<rect x="505.82" y="140.32" width="2.76" height="3.60" fill="#fff" stroke="#555" stroke-width="0.6"/>
<ellipse cx="381.30" cy="24.70" rx="1.62" ry="2.10" fill="#111"/>
<ellipse cx="385.10" cy="44.48" rx="1.62" ry="2.10" fill="#111"/>
<ellipse cx="385.40" cy="64.25" rx="1.62" ry="2.10" fill="#111"/>
<ellipse cx="388.90" cy="87.74" rx="1.62" ry="2.10" fill="#111"/>
<ellipse cx="396.90" cy="109.49" rx="1.62" ry="2.10" fill="#111"/>
<ellipse cx="412.70" cy="127.91" rx="1.62" ry="2.10" fill="#111"/>
<ellipse cx="443.50" cy="127.78" rx="1.62" ry="2.10" fill="#111"/>
<ellipse cx="507.20" cy="139.03" rx="1.62" ry="2.10" fill="#111"/>
<path d="M381.30,22.90 L383.10,26.14 L379.50,26.14Z" fill="#111"/>
<path d="M385.10,35.88 L386.90,39.12 L383.30,39.12Z" fill="#111"/>
<path d="M385.40,59.49 L387.20,62.73 L383.60,62.73Z" fill="#111"/>
<path d="M388.90,90.88 L390.70,94.12 L387.10,94.12Z" fill="#111"/>
<path d="M396.90,120.67 L398.70,123.91 L395.10,123.91Z" fill="#111"/>
<path d="M412.70,130.43 L414.50,133.67 L410.90,133.67Z" fill="#111"/>
<path d="M443.50,139.08 L445.30,142.32 L441.70,142.32Z" fill="#111"/>
<path d="M507.20,142.79 L509.00,146.03 L505.40,146.03Z" fill="#111"/>
<line x1="482.50" y1="17.60" x2="492.00" y2="17.60" stroke="#d0d0d0" stroke-width="0.6"/>
<ellipse cx="487.50" cy="17.60" rx="1.20" ry="1.60" fill="#fff" stroke="#111" stroke-width="0.6"/>
<text x="494.00" y="19.60" font-size="5.25" text-anchor="start" font-weight="normal" fill="#000" stroke="#000" stroke-width="0.2">kit WT</text>
<line x1="482.50" y1="25.90" x2="492.00" y2="25.90" stroke="#d0d0d0" stroke-width="0.6"/>
<rect x="486.25" y="24.25" width="2.50" height="3.30" fill="#111"/>
<text x="494.00" y="27.90" font-size="5.25" text-anchor="start" font-weight="normal" fill="#000" stroke="#000" stroke-width="0.2">kit cITD 1</text>
<line x1="482.50" y1="34.20" x2="492.00" y2="34.20" stroke="#d0d0d0" stroke-width="0.6"/>
<rect x="486.35" y="32.70" width="2.30" height="3.00" fill="#fff" stroke="#555" stroke-width="0.6"/>
<text x="494.00" y="36.20" font-size="5.25" text-anchor="start" font-weight="normal" fill="#000" stroke="#000" stroke-width="0.2">kit cITD 2</text>
<line x1="482.50" y1="42.50" x2="492.00" y2="42.50" stroke="#d0d0d0" stroke-width="0.6"/>
<ellipse cx="487.50" cy="42.50" rx="1.35" ry="1.75" fill="#111"/>
<text x="494.00" y="44.50" font-size="5.25" text-anchor="start" font-weight="normal" fill="#000" stroke="#000" stroke-width="0.2">kit cITD 3</text>
<line x1="482.50" y1="50.80" x2="492.00" y2="50.80" stroke="#d0d0d0" stroke-width="0.6"/>
<path d="M487.50,49.30 L489.00,52.00 L486.00,52.00Z" fill="#111"/>
<text x="494.00" y="52.80" font-size="5.25" text-anchor="start" font-weight="normal" fill="#000" stroke="#000" stroke-width="0.2">kit cITD 4</text>
<text x="132.70" y="189.90" font-size="11.0" text-anchor="start" font-weight="bold" fill="#000" stroke="#000" stroke-width="0.5">B</text>
<line x1="164.10" y1="195.45" x2="164.10" y2="286.70" stroke="#1a1a1a" stroke-width="1.1"/>
<line x1="163.60" y1="286.70" x2="344.00" y2="286.70" stroke="#1a1a1a" stroke-width="1.1"/>
<line x1="164.10" y1="196.05" x2="345.00" y2="196.05" stroke="#b4b4b4" stroke-width="1.2"/>
<line x1="158.70" y1="286.70" x2="164.10" y2="286.70" stroke="#222" stroke-width="0.9"/>
<text x="155.50" y="288.80" font-size="6.2" text-anchor="end" font-weight="normal" fill="#000" stroke="#000" stroke-width="0.12">0</text>
<line x1="164.50" y1="286.70" x2="164.50" y2="289.30" stroke="#222" stroke-width="0.9"/>
<text x="164.50" y="297.50" font-size="6.2" text-anchor="middle" font-weight="normal" fill="#000" stroke="#000" stroke-width="0.12">0</text>
<line x1="158.70" y1="268.55" x2="164.10" y2="268.55" stroke="#222" stroke-width="0.9"/>
<text x="155.50" y="270.65" font-size="6.2" text-anchor="end" font-weight="normal" fill="#000" stroke="#000" stroke-width="0.12">0.2</text>
<line x1="200.10" y1="286.70" x2="200.10" y2="289.30" stroke="#222" stroke-width="0.9"/>
<text x="200.10" y="297.50" font-size="6.2" text-anchor="middle" font-weight="normal" fill="#000" stroke="#000" stroke-width="0.12">0.2</text>
<line x1="158.70" y1="250.40" x2="164.10" y2="250.40" stroke="#222" stroke-width="0.9"/>
<text x="155.50" y="252.50" font-size="6.2" text-anchor="end" font-weight="normal" fill="#000" stroke="#000" stroke-width="0.12">0.4</text>
<line x1="235.70" y1="286.70" x2="235.70" y2="289.30" stroke="#222" stroke-width="0.9"/>
<text x="235.70" y="297.50" font-size="6.2" text-anchor="middle" font-weight="normal" fill="#000" stroke="#000" stroke-width="0.12">0.4</text>
<line x1="158.70" y1="232.25" x2="164.10" y2="232.25" stroke="#222" stroke-width="0.9"/>
<text x="155.50" y="234.35" font-size="6.2" text-anchor="end" font-weight="normal" fill="#000" stroke="#000" stroke-width="0.12">0.6</text>
<line x1="271.30" y1="286.70" x2="271.30" y2="289.30" stroke="#222" stroke-width="0.9"/>
<text x="271.30" y="297.50" font-size="6.2" text-anchor="middle" font-weight="normal" fill="#000" stroke="#000" stroke-width="0.12">0.6</text>
<line x1="158.70" y1="214.10" x2="164.10" y2="214.10" stroke="#222" stroke-width="0.9"/>
<text x="155.50" y="216.20" font-size="6.2" text-anchor="end" font-weight="normal" fill="#000" stroke="#000" stroke-width="0.12">0.8</text>
<line x1="306.90" y1="286.70" x2="306.90" y2="289.30" stroke="#222" stroke-width="0.9"/>
<text x="306.90" y="297.50" font-size="6.2" text-anchor="middle" font-weight="normal" fill="#000" stroke="#000" stroke-width="0.12">0.8</text>
<line x1="158.70" y1="195.95" x2="164.10" y2="195.95" stroke="#222" stroke-width="0.9"/>
<text x="155.50" y="198.05" font-size="6.2" text-anchor="end" font-weight="normal" fill="#000" stroke="#000" stroke-width="0.12">1.0</text>
<line x1="342.50" y1="286.70" x2="342.50" y2="289.30" stroke="#222" stroke-width="0.9"/>
<text x="342.50" y="297.50" font-size="6.2" text-anchor="middle" font-weight="normal" fill="#000" stroke="#000" stroke-width="0.12">1.0</text>
<text x="253.30" y="191.20" font-size="5.6" text-anchor="middle" font-weight="normal" fill="#000" stroke="#000" stroke-width="0.2">Antagonism</text>
<text x="251.70" y="203.70" font-size="5.6" text-anchor="middle" font-weight="normal" fill="#000" stroke="#000" stroke-width="0.2">Synergism</text>
<text x="215.00" y="214.60" font-size="6.3" text-anchor="start" font-weight="normal" fill="#000" stroke="#000" stroke-width="0.15">Combination index of IM and Rap</text>
<text x="138.30" y="236.60" font-size="7.0" text-anchor="middle" font-weight="normal" fill="#000" stroke="#000" stroke-width="0.12" transform="rotate(-90 138.3 236.6)">Combination Index</text>
<text x="251.20" y="307.30" font-size="6.45" text-anchor="middle" font-weight="normal" fill="#000" stroke="#000" stroke-width="0.15">Fractional Effect Levels</text>
<path d="M170.50,278.00 C171.42,278.40 173.85,279.80 176.00,280.40 C178.15,281.00 176.07,281.30 183.40,281.60 C190.73,281.90 203.90,282.07 220.00,282.20 C236.10,282.33 261.08,282.38 280.00,282.40 C298.92,282.42 324.12,282.53 333.50,282.30 C342.88,282.07 335.60,281.67 336.30,281.00 C337.00,280.33 337.33,279.55 337.70,278.30 C338.07,277.05 338.30,275.22 338.50,273.50 C338.70,271.78 338.78,269.75 338.90,268.00 C339.02,266.25 339.15,263.83 339.20,263.00" fill="none" stroke="#4a4a4a" stroke-width="0.8"/>
<path d="M170.10,273.20 C170.92,273.80 173.32,275.87 175.00,276.80 C176.68,277.73 177.70,278.32 180.20,278.80 C182.70,279.28 185.03,279.57 190.00,279.70 C194.97,279.83 200.67,279.75 210.00,279.60 C219.33,279.45 234.33,278.82 246.00,278.80 C257.67,278.78 269.33,279.13 280.00,279.50 C290.67,279.87 299.42,280.48 310.00,281.00 C320.58,281.52 337.92,282.33 343.50,282.60" fill="none" stroke="#888" stroke-width="0.75"/>
<path d="M172.10,269.10 C173.45,269.78 177.50,272.12 180.20,273.20 C182.90,274.28 184.27,274.93 188.30,275.60 C192.33,276.27 198.45,276.88 204.40,277.20 C210.35,277.52 216.40,277.65 224.00,277.50 C231.60,277.35 240.67,277.12 250.00,276.30 C259.33,275.48 271.67,273.72 280.00,272.60 C288.33,271.48 293.67,270.60 300.00,269.60 C306.33,268.60 313.17,267.63 318.00,266.60 C322.83,265.57 326.07,264.52 329.00,263.40 C331.93,262.28 333.85,261.13 335.60,259.90 C337.35,258.67 338.35,257.57 339.50,256.00 C340.65,254.43 341.83,251.77 342.50,250.50 C343.17,249.23 343.33,248.75 343.50,248.40" fill="none" stroke="#555" stroke-width="0.75"/>
<path d="M168.00,246.80 C168.67,248.03 170.23,251.57 172.00,254.20 C173.77,256.83 176.27,260.22 178.60,262.60 C180.93,264.98 183.18,266.77 186.00,268.50 C188.82,270.23 192.00,271.82 195.50,273.00 C199.00,274.18 202.95,275.00 207.00,275.60 C211.05,276.20 214.30,276.50 219.80,276.60 C225.30,276.70 233.30,276.47 240.00,276.20 C246.70,275.93 253.33,275.48 260.00,275.00 C266.67,274.52 273.33,273.83 280.00,273.30 C286.67,272.77 293.33,272.25 300.00,271.80 C306.67,271.35 312.67,271.02 320.00,270.60 C327.33,270.18 340.00,269.52 344.00,269.30" fill="none" stroke="#444" stroke-width="0.75"/>
<line x1="178.20" y1="267.40" x2="178.20" y2="271.80" stroke="#aaa" stroke-width="0.5"/>
<line x1="176.60" y1="267.40" x2="179.80" y2="267.40" stroke="#aaa" stroke-width="0.5"/>
<line x1="176.60" y1="271.80" x2="179.80" y2="271.80" stroke="#aaa" stroke-width="0.5"/>
<line x1="264.30" y1="268.60" x2="264.30" y2="272.60" stroke="#aaa" stroke-width="0.5"/>
<line x1="262.70" y1="268.60" x2="265.90" y2="268.60" stroke="#aaa" stroke-width="0.5"/>
<line x1="262.70" y1="272.60" x2="265.90" y2="272.60" stroke="#aaa" stroke-width="0.5"/>
<line x1="300.20" y1="266.60" x2="300.20" y2="271.00" stroke="#aaa" stroke-width="0.5"/>
<line x1="298.60" y1="266.60" x2="301.80" y2="266.60" stroke="#aaa" stroke-width="0.5"/>
<line x1="298.60" y1="271.00" x2="301.80" y2="271.00" stroke="#aaa" stroke-width="0.5"/>
<line x1="302.10" y1="279.00" x2="302.10" y2="284.20" stroke="#aaa" stroke-width="0.5"/>
<line x1="300.50" y1="279.00" x2="303.70" y2="279.00" stroke="#aaa" stroke-width="0.5"/>
<line x1="300.50" y1="284.20" x2="303.70" y2="284.20" stroke="#aaa" stroke-width="0.5"/>
<line x1="184.20" y1="273.00" x2="184.20" y2="276.20" stroke="#aaa" stroke-width="0.5"/>
<line x1="182.60" y1="273.00" x2="185.80" y2="273.00" stroke="#aaa" stroke-width="0.5"/>
<line x1="182.60" y1="276.20" x2="185.80" y2="276.20" stroke="#aaa" stroke-width="0.5"/>
<rect x="176.94" y="267.95" width="2.53" height="3.30" fill="#fff" stroke="#444" stroke-width="0.6"/>
<rect x="203.94" y="275.75" width="2.53" height="3.30" fill="#fff" stroke="#444" stroke-width="0.6"/>
<rect x="210.44" y="279.95" width="2.53" height="3.30" fill="#fff" stroke="#444" stroke-width="0.6"/>
<rect x="244.74" y="276.45" width="2.53" height="3.30" fill="#fff" stroke="#444" stroke-width="0.6"/>
<rect x="320.63" y="282.35" width="2.53" height="3.30" fill="#fff" stroke="#444" stroke-width="0.6"/>
<circle cx="189.90" cy="279.60" r="1.60" fill="#fff" stroke="#444" stroke-width="0.6"/>
<circle cx="241.30" cy="281.60" r="1.60" fill="#fff" stroke="#444" stroke-width="0.6"/>
<circle cx="267.70" cy="281.60" r="1.60" fill="#fff" stroke="#444" stroke-width="0.6"/>
<circle cx="302.10" cy="281.60" r="1.60" fill="#fff" stroke="#444" stroke-width="0.6"/>
<circle cx="329.40" cy="278.80" r="1.60" fill="#fff" stroke="#444" stroke-width="0.6"/>
<path d="M179.50,266.32 L181.18,269.34 L177.82,269.34Z" fill="#fff" stroke="#555" stroke-width="0.55"/>
<path d="M184.20,272.92 L185.88,275.94 L182.52,275.94Z" fill="#fff" stroke="#555" stroke-width="0.55"/>
<path d="M264.30,268.92 L265.98,271.94 L262.62,271.94Z" fill="#fff" stroke="#555" stroke-width="0.55"/>
<path d="M300.20,267.12 L301.88,270.14 L298.52,270.14Z" fill="#fff" stroke="#555" stroke-width="0.55"/>
<path d="M337.20,258.72 L338.88,261.74 L335.52,261.74Z" fill="#fff" stroke="#555" stroke-width="0.55"/>
<circle cx="178.60" cy="262.80" r="1.85" fill="#111"/>
<circle cx="195.40" cy="273.10" r="1.85" fill="#111"/>
<circle cx="220.00" cy="277.10" r="1.85" fill="#111"/>
<circle cx="258.40" cy="270.70" r="1.85" fill="#111"/>
<circle cx="292.80" cy="276.00" r="1.85" fill="#111"/>
<line x1="317.30" y1="212.50" x2="327.00" y2="212.50" stroke="#bbb" stroke-width="0.5"/>
<path d="M322.30,210.21 L324.60,212.50 L322.30,214.79 L320.00,212.50Z" fill="#fff" stroke="#222" stroke-width="0.55"/>
<text x="329.10" y="214.50" font-size="5.5" text-anchor="start" font-weight="normal" fill="#000" stroke="#000" stroke-width="0.15">kit cITD 1</text>
<line x1="317.30" y1="221.30" x2="327.00" y2="221.30" stroke="#bbb" stroke-width="0.5"/>
<rect x="320.92" y="219.50" width="2.76" height="3.60" fill="#fff" stroke="#222" stroke-width="0.6"/>
<text x="329.10" y="223.30" font-size="5.5" text-anchor="start" font-weight="normal" fill="#000" stroke="#000" stroke-width="0.15">kit cITD 2</text>
<line x1="317.30" y1="230.10" x2="327.00" y2="230.10" stroke="#bbb" stroke-width="0.5"/>
<ellipse cx="322.30" cy="230.10" rx="1.69" ry="2.19" fill="#222"/>
<text x="329.10" y="232.10" font-size="5.5" text-anchor="start" font-weight="normal" fill="#000" stroke="#000" stroke-width="0.15">kit cITD 3</text>
<line x1="317.30" y1="238.90" x2="327.00" y2="238.90" stroke="#bbb" stroke-width="0.5"/>
<path d="M322.30,237.38 L323.82,240.12 L320.78,240.12Z" fill="#fff" stroke="#222" stroke-width="0.55"/>
<text x="329.10" y="240.90" font-size="5.5" text-anchor="start" font-weight="normal" fill="#000" stroke="#000" stroke-width="0.15">kit cITD 4</text>
</g>
</svg>
</body></html>
